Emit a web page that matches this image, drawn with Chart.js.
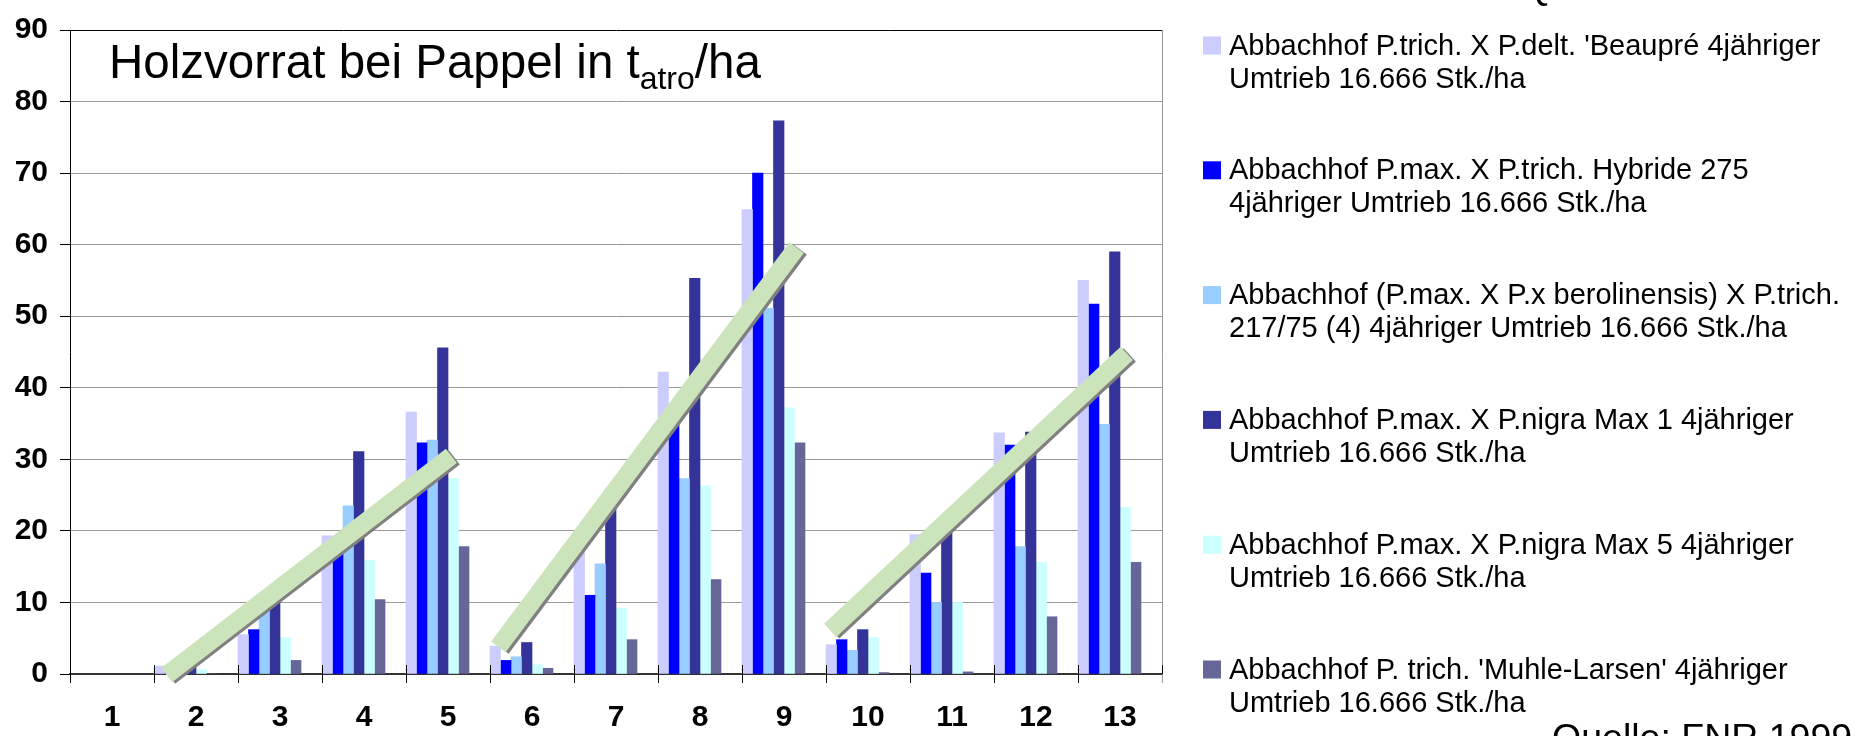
<!DOCTYPE html>
<html>
<head>
<meta charset="utf-8">
<title>Holzvorrat bei Pappel</title>
<script src="https://cdn.jsdelivr.net/npm/chart.js@4.4.1/dist/chart.umd.min.js"></script>
<style>
  html, body { margin: 0; padding: 0; background: #fff; }
  #wrap { position: relative; width: 1856px; height: 736px; }
</style>
</head>
<body>
<div id="wrap"><canvas id="holzChart"></canvas></div>
<script>
  // years of growth on the x axis
  const categories = ['1','2','3','4','5','6','7','8','9','10','11','12','13'];
  const yTicks = [0,10,20,30,40,50,60,70,80,90];

  // Holzvorrat in t atro / ha per clone
  const beaupre      = [null, 1.1, 5.5, 19.3, 36.6, 3.9, 18.0, 42.2, 64.9, 4.1, 19.5, 33.7, 55.0];
  const hybride275   = [null, 1.0, 6.2, 18.0, 32.3, 1.9, 11.0, 37.0, 70.0, 4.8, 14.1, 32.0, 51.7];
  const berolinensis = [null, 0.7, 9.5, 23.5, 32.7, 2.4, 15.4, 27.3, 51.1, 3.3, 10.0, 17.8, 34.9];
  const max1         = [null, 1.1, 10.4, 31.1, 45.6, 4.4, 25.0, 55.3, 77.3, 6.2, 21.5, 33.8, 59.0];
  const max5         = [null, 0.6, 5.1, 15.9, 27.3, 1.3, 9.2, 26.3, 37.2, 5.1, 10.0, 15.6, 23.3];
  const muhleLarsen  = [null, 0.0, 1.9, 10.4, 17.8, 0.8, 4.8, 13.2, 32.3, 0.2, 0.3, 8.0, 15.6];

  const seriesNames = [
    ["Abbachhof P.trich. X P.delt. 'Beaupré 4jähriger", "Umtrieb 16.666 Stk./ha"],
    ["Abbachhof P.max. X P.trich. Hybride 275", "4jähriger Umtrieb 16.666 Stk./ha"],
    ["Abbachhof (P.max. X P.x berolinensis) X P.trich.", "217/75 (4) 4jähriger Umtrieb 16.666 Stk./ha"],
    ["Abbachhof P.max. X P.nigra Max 1 4jähriger", "Umtrieb 16.666 Stk./ha"],
    ["Abbachhof P.max. X P.nigra Max 5 4jähriger", "Umtrieb 16.666 Stk./ha"],
    ["Abbachhof P. trich. 'Muhle-Larsen' 4jähriger", "Umtrieb 16.666 Stk./ha"]
  ];
  const seriesValues = [beaupre, hybride275, berolinensis, max1, max5, muhleLarsen];
  const seriesColors = ['#ccccff', '#0000ff', '#99ccff', '#333399', '#ccffff', '#666699'];

  // growth trend arrows per rotation (x in years, y in t/ha)
  const trendRotation1 = [{x: 1.65, y: -0.15}, {x: 5.04, y: 30.5}];
  const trendRotation2 = [{x: 5.60, y: 3.8},   {x: 9.15, y: 59.6}];
  const trendRotation3 = [{x: 9.55, y: 6.1},   {x: 13.08, y: 44.8}];

  const FONT = '"Liberation Sans", Arial, Helvetica, sans-serif';
  Chart.defaults.font.family = FONT;

  const barSets = seriesValues.map((vals, i) => ({
    type: 'bar',
    label: seriesNames[i].join(' '),
    data: vals,
    backgroundColor: seriesColors[i],
    borderWidth: 0,
    barPercentage: 1,
    categoryPercentage: 1,
    order: 1
  }));
  // two empty slots keep each cluster at the left of its year
  const spacer = () => ({ type: 'bar', label: '', data: [], backgroundColor: 'rgba(0,0,0,0)',
                          barPercentage: 1, categoryPercentage: 1, order: 1 });

  // trend lines sit on the category axis; year 1 is index 0 there
  const trendSets = [trendRotation1, trendRotation2, trendRotation3].map(pts => ({
    type: 'line',
    label: '',
    parsing: false,
    data: pts.map(p => ({ x: p.x - 1, y: p.y })),
    borderColor: '#cbe4bc',
    borderWidth: 18,
    borderCapStyle: 'butt',
    pointRadius: 0,
    tension: 0,
    clip: false,
    order: 0,
    isTrend: true
  }));

  const decor = {
    id: 'decor',
    beforeDatasetDraw(chart, args) {
      if (!args.meta._dataset.isTrend) return;
      const c = chart.ctx;
      c.save();
      c.shadowColor = '#808080';
      c.shadowOffsetX = 3;
      c.shadowOffsetY = 1.5;
      c.shadowBlur = 0;
    },
    afterDatasetDraw(chart, args) {
      if (!args.meta._dataset.isTrend) return;
      chart.ctx.restore();
    },
    afterDraw(chart) {
      const c = chart.ctx;
      const a = chart.chartArea;
      const xs = chart.scales.x;
      c.save();

      // right frame of the plot
      c.strokeStyle = '#9a9a9a';
      c.lineWidth = 1;
      c.beginPath();
      c.moveTo(Math.round(a.right) + 0.5, a.top);
      c.lineTo(Math.round(a.right) + 0.5, a.bottom + 9);
      c.stroke();

      // category ticks cross the axis
      c.strokeStyle = '#000';
      const step = (a.right - a.left) / xs.ticks.length;
      for (let i = 0; i <= xs.ticks.length; i++) {
        const px = Math.round(a.left + i * step) + 0.5;
        c.beginPath();
        c.moveTo(px, a.bottom - 9);
        c.lineTo(px, a.bottom);
        c.stroke();
      }

      // title with subscript
      c.fillStyle = '#000';
      c.textBaseline = 'alphabetic';
      c.textAlign = 'left';
      let tx = 109;
      c.font = '47.5px ' + FONT;
      const t1 = 'Holzvorrat bei Pappel in t';
      c.fillText(t1, tx, 78);
      tx += c.measureText(t1).width;
      c.font = '32px ' + FONT;
      c.fillText('atro', tx, 89);
      tx += c.measureText('atro').width;
      c.font = '47.5px ' + FONT;
      c.fillText('/ha', tx, 78);

      // legend
      c.font = '29px ' + FONT;
      seriesNames.forEach((lines, i) => {
        const base = 54.5 + i * 124.8;
        c.fillStyle = seriesColors[i];
        c.fillRect(1203, base - 18, 18, 18);
        c.fillStyle = '#000';
        lines.forEach((ln, j) => c.fillText(ln, 1229, base + j * 33));
      });

      // source notes
      c.font = '37.5px ' + FONT;
      c.fillText('Quelle: FNR 1999', 1523, -1);
      c.fillText('Quelle: FNR 1999', 1552, 750);
      c.restore();
    }
  };

  new Chart(document.getElementById('holzChart'), {
    data: {
      labels: categories,
      datasets: [...barSets, spacer(), spacer(), ...trendSets]
    },
    options: {
      responsive: true,
      maintainAspectRatio: false,
      animation: false,
      layout: { padding: { top: 23, right: 694, left: 0, bottom: 0 } },
      plugins: { legend: { display: false }, tooltip: { enabled: false } },
      scales: {
        x: {
          type: 'category',
          offset: true,
          afterFit: s => { s.height = 62; },
          grid: { display: true, drawOnChartArea: false, drawTicks: true, tickLength: 9,
                  offset: true, color: '#000', tickColor: '#000', lineWidth: 1 },
          border: { display: true, color: '#333', width: 2 },
          ticks: { color: '#000', font: { size: 30, weight: 'bold' }, padding: 17, maxRotation: 0 }
        },
        y: {
          min: 0,
          max: 90,
          afterFit: s => { s.width = 70; },
          afterBuildTicks: s => { s.ticks = yTicks.map(v => ({ value: v })); },
          grid: {
            color: ctx => ctx.tick && ctx.tick.value === 90 ? '#000' : (ctx.tick && ctx.tick.value === 0 ? '#333' : '#9a9a9a'),
            tickColor: '#000',
            tickLength: 10,
            lineWidth: 1
          },
          border: { display: true, color: '#000', width: 1 },
          ticks: { color: '#000', font: { size: 30, weight: 'bold' }, padding: 12 }
        }
      }
    },
    plugins: [decor]
  });
</script>
</body>
</html>
